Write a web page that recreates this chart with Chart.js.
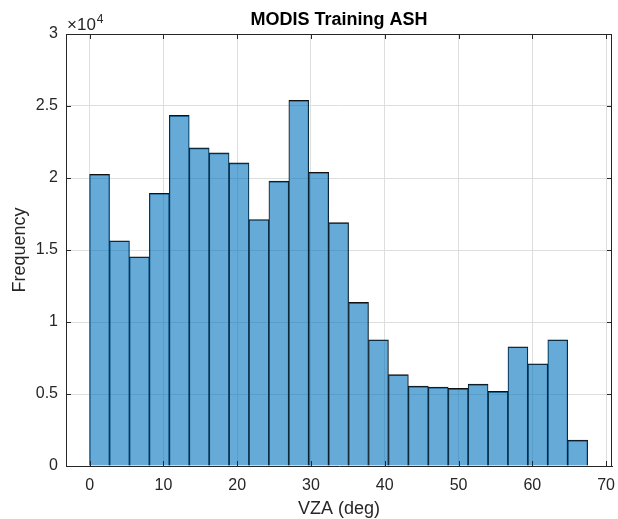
<!DOCTYPE html>
<html>
<head>
<meta charset="utf-8">
<script src="https://cdn.jsdelivr.net/npm/chart.js@4/dist/chart.umd.min.js"></script>
<style>
  html, body { margin: 0; padding: 0; background: #fff; }
  #wrap { width: 618px; height: 519px; }
</style>
</head>
<body>
<div id="wrap"><canvas id="c"></canvas></div>
<script>
// histogram bins (deg) and counts
const binEdges = [0, 2.7, 5.4, 8.1, 10.8, 13.5, 16.2, 18.9, 21.6, 24.3, 27, 29.7, 32.4, 35.1,
                  37.8, 40.5, 43.2, 45.9, 48.6, 51.3, 54, 56.7, 59.4, 62.1, 64.8, 67.5];
const counts = [20260, 15640, 14530, 18940, 24350, 22090, 21740, 21050, 17120, 19780, 25400, 20400,
                16900, 11360, 8770, 6340, 5550, 5480, 5390, 5690, 5180, 8280, 7100, 8770, 1800];
const xTicks = [0, 10, 20, 30, 40, 50, 60, 70];
const yTicks = [0, 5000, 10000, 15000, 20000, 25000, 30000];

const FONT = "'Liberation Sans', Arial, Helvetica, sans-serif";
const AX = '#262626';

const points = counts.map((c, i) => ({ x: (binEdges[i] + binEdges[i + 1]) / 2, y: c }));

// matlab style: inward ticks on all four sides, box, x10^4 multiplier
const boxPlugin = {
    id: 'box',
    afterDatasetsDraw(chart) {
        const { ctx, chartArea: a, scales: { x, y } } = chart;
        const len = 5;
        ctx.save();
        ctx.strokeStyle = AX;
        ctx.lineWidth = 1;
        ctx.beginPath();
        ctx.moveTo(a.left, a.top + 0.5); ctx.lineTo(a.right, a.top + 0.5);
        ctx.moveTo(a.right - 0.5, a.top); ctx.lineTo(a.right - 0.5, a.bottom);
        xTicks.forEach(v => {
            const px = Math.round(x.getPixelForValue(v)) + 0.5;
            ctx.moveTo(px, a.bottom); ctx.lineTo(px, a.bottom - len);
            ctx.moveTo(px, a.top); ctx.lineTo(px, a.top + len);
        });
        yTicks.forEach(v => {
            const py = Math.round(y.getPixelForValue(v)) + 0.5;
            ctx.moveTo(a.left, py); ctx.lineTo(a.left + len, py);
            ctx.moveTo(a.right, py); ctx.lineTo(a.right - len, py);
        });
        ctx.stroke();

        ctx.fillStyle = AX;
        ctx.textBaseline = 'alphabetic';
        ctx.textAlign = 'left';
        ctx.font = `17px ${FONT}`;
        ctx.fillText('\u00d710', a.left + 1, a.top - 4);
        const w = ctx.measureText('\u00d710').width;
        ctx.font = `12px ${FONT}`;
        ctx.fillText('4', a.left + 2 + w, a.top - 11);
        ctx.restore();
    }
};

new Chart(document.getElementById('c'), {
    type: 'bar',
    data: {
        datasets: [{
            data: points,
            backgroundColor: 'rgba(0,114,189,0.6)',
            borderColor: '#111',
            borderWidth: { top: 1, left: 0.6, right: 0.6, bottom: 0 },
            borderSkipped: false,
            barPercentage: 1,
            categoryPercentage: 1
        }]
    },
    options: {
        responsive: true,
        maintainAspectRatio: false,
        animation: false,
        events: [],
        layout: { padding: { top: 0, right: 6, left: 0, bottom: 0 } },
        plugins: {
            legend: { display: false },
            tooltip: { enabled: false },
            title: {
                display: true,
                text: 'MODIS Training ASH',
                fullSize: false,
                color: '#000',
                font: { family: FONT, size: 18, weight: 'bold', lineHeight: 1 },
                padding: { top: 11, bottom: 5 }
            }
        },
        scales: {
            x: {
                type: 'linear',
                offset: false,
                min: -3.2,
                max: 70.8,
                afterBuildTicks: s => { s.ticks = xTicks.map(v => ({ value: v })); },
                afterFit: s => { s.height = 53; s.paddingLeft = 0; s.paddingRight = 0; },
                grid: { color: '#dedede', drawTicks: false, offset: false },
                border: { color: AX, width: 1 },
                ticks: { color: AX, padding: 10, font: { family: FONT, size: 16 }, maxRotation: 0 },
                title: {
                    display: true, text: 'VZA (deg)', color: AX,
                    font: { family: FONT, size: 18, lineHeight: 1 },
                    padding: { top: 0, bottom: 1 }
                }
            },
            y: {
                min: 0,
                max: 30000,
                afterBuildTicks: s => { s.ticks = yTicks.map(v => ({ value: v })); },
                afterFit: s => { s.width = 66; s.paddingTop = 0; s.paddingBottom = 0; },
                grid: { color: '#dedede', drawTicks: false },
                border: { color: AX, width: 1 },
                ticks: { color: AX, padding: 8, font: { family: FONT, size: 16 }, callback: v => String(v / 10000) },
                title: {
                    display: true, text: 'Frequency', color: AX,
                    font: { family: FONT, size: 18, lineHeight: 1 },
                    padding: { top: 11, bottom: 0 }
                }
            }
        }
    },
    plugins: [boxPlugin]
});
</script>
</body>
</html>
